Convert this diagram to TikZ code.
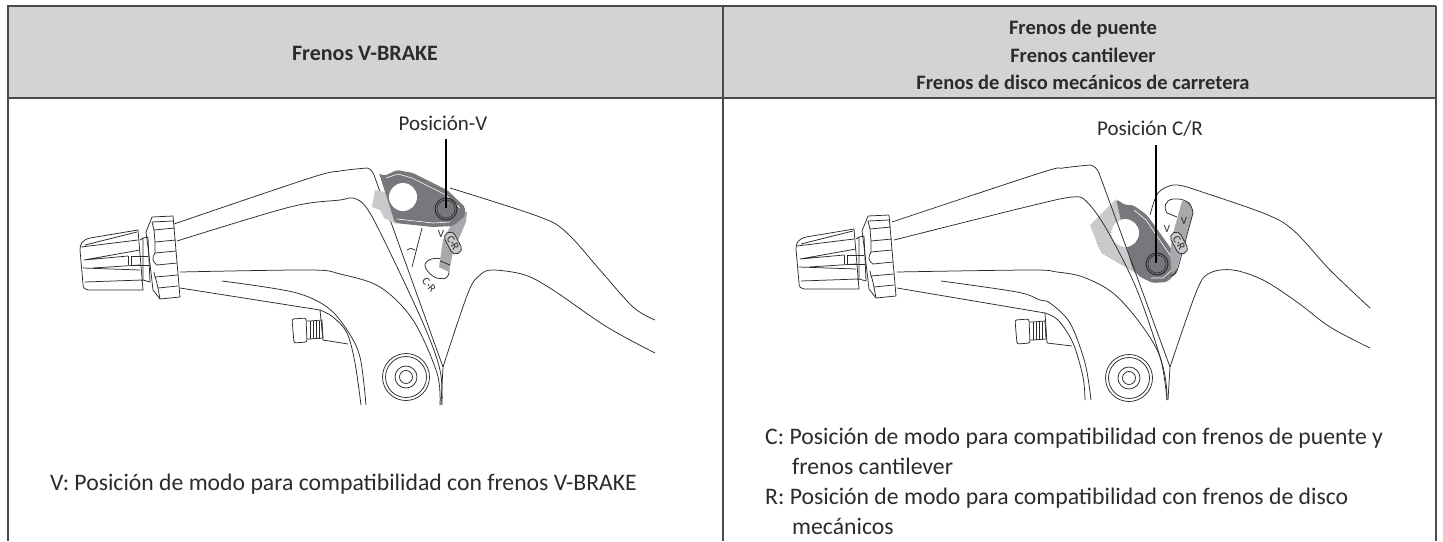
\documentclass[tikz,border=0pt]{standalone}
\usepackage{fontspec}
\setmainfont{Carlito}
\definecolor{headgray}{HTML}{D1D3D4}
\definecolor{platedark}{HTML}{77787B}
\definecolor{platemid}{HTML}{A7A9AC}
\definecolor{platelight}{HTML}{C9CACC}
\definecolor{inkgray}{HTML}{2B2B2B}
\tikzset{
  outline/.style={draw=inkgray,line width=0.75pt,line join=round},
  smoothline/.style={outline,smooth,tension=0.55},
  rule/.style={draw=inkgray!85,line width=1.4pt},
  leaderline/.style={draw=black,line width=1.8pt},
  headtext/.style={font=\fontsize{20.5}{27.5}\selectfont\bfseries,align=center,text=inkgray,inner sep=0pt},
  bodytext/.style={font=\fontsize{23.7}{30}\selectfont,align=left,anchor=base west,text=inkgray,inner sep=0pt},
  calllabel/.style={font=\fontsize{21}{25}\selectfont,anchor=base,text=inkgray,inner sep=0pt},
  tinymark/.style={font=\fontsize{11}{11}\selectfont,text=inkgray,inner sep=0pt},
  pillmark/.style={tinymark,outline,fill=platelight,rounded corners=5pt,minimum width=23pt,minimum height=11pt,rotate=-62},
}
% knob, neck and collar of the lever
\newcommand{\leverknob}{
  \draw[outline] (138,230)--(90,238)..controls (82,240) and (80,244) .. (80,250)--(83,284)..controls (83,288) and (85,290) .. (88,290)--(143,290)--cycle;
  \draw[outline] (81,247)--(138,240) (85,245)--(137,232) (84,260)--(140,250) (84,260)--(128,256) (83,268)--(140,270) (93,268)--(140,265) (85,282)--(142,280);
  \draw[outline] (140,240)--(143,238)--(143,280)--(141,281);
  \draw[outline] (143,238)--(148,237)--(150,282)--(143,280);
  \draw[outline] (128,256)--(128,265) (131,256)--(131,265) (131,256)--(148,256) (131,265)--(149,265);
  \draw[outline] (152,217)--(173,216)--(180,297)--(160,299)--(153,290)--(148,247)--(146,232)--cycle;
  \draw[outline] (152,222)--(173,221) (154,230)--(175,228) (155,242)--(176,240) (155,253)--(176,251) (157,265)--(177,263) (155,277)--(178,275) (158,288)--(178,286);
  \draw[outline] (152,222)--(154,230)--(155,242)--(155,253)..controls (152,257) and (152,262) .. (157,265);
  \draw[outline] (157,265) (155,277)..controls (157,281) and (157,285) .. (158,288)--(160,299);
  \draw[outline] (155,277)--(154,272);
}
% bolt and ring of the mount
\newcommand{\leverbolt}{
  \draw[outline,rounded corners=2pt] (292,319)--(306,318)--(307,342)--(294,343)--cycle;
  \draw[outline] (307,321)--(310,321)--(322,320)--(323,338)--(310,339)--(307,339);
  \foreach \tx in {310,313,316,319}{\draw[outline] (\tx,321)--(\tx,339);}
  \draw[outline] (406,377) circle (23.5) (406,377) circle (20.5) (406,377) circle (11) (406,377) circle (6.5);
}
\begin{document}
\begin{tikzpicture}[x=1pt,y=-1pt]
\useasboundingbox (0,0) rectangle (1443,541);
% table
\fill[headgray] (8,6) rectangle (1436,98);
\draw[rule,line width=2.2pt] (8,6)--(1436,6);
\draw[rule] (8,98)--(1436,98);
\draw[rule,line width=1.8pt] (8,5)--(8,541);
\draw[rule] (723,6)--(723,541);
\draw[rule] (1436,6)--(1436,541);
\node[headtext,font=\fontsize{22}{27.5}\selectfont\bfseries] (headV) at (365,53) {Frenos V-BRAKE};
\node[headtext] (headCR) at (1083,55) {Frenos de puente\\Frenos cantilever\\Frenos de disco mecánicos de carretera};

% left picture
\leverknob
\leverbolt
\draw[smoothline] plot coordinates {(174,224) (310,178) (340,171) (367,168)};
\draw[outline] (367,168)..controls (371,169) and (372,171) .. (374,175)--(443,367)--(441,405);
\draw[smoothline] plot coordinates {(177,241) (290,207) (340,200) (353,198) (366,207) (384,240) (423,323) (440,370) (442,405)};
\draw[smoothline] plot coordinates {(180,272) (310,270) (340,274) (380,287) (413,320) (437,373) (440,405)};
\draw[smoothline] plot coordinates {(222,281) (293,292) (327,307) (347,330) (360,357) (366,405)};
\draw[smoothline] plot coordinates {(320,310) (333,317) (347,333) (355,363) (361,405)};
\draw[outline] (180,288)--(320,310)--(323,340)--(348,344);
\draw[outline] (422,228)--(412,267) (407,250)..controls (410,248) and (413,248) .. (415,250);
\draw[smoothline] plot coordinates {(450,188) (540,217) (567,233) (600,270) (633,307) (655,320)};
\draw[smoothline] plot coordinates {(443,367) (468,293) (480,275) (493,270) (525,275) (553,290) (607,327) (655,353)};
\draw[outline,fill=white,rounded corners=3pt] (440,258)--(430,259)--(424,264)--(427,271)--(435,278)--(446,279)--(450,272)--(445,262)--cycle;
\fill[platelight] (375,190)--(372,207)--(380,210)--(384,218)--(396,224)--(385,192)--cycle;
\fill[platemid] (458,212)--(467,212)--(466,222)--(453,252)--(449,272)--(439,267)--(443,240)--cycle;
\draw[outline] (440,261)--(450,265);
\fill[platedark,rounded corners=2pt] (379,173)--(384,176)--(397,170)--(413,173)--(447,190)--(465,207)--(465,216)--(453,226)--(433,227)--(395,223)--cycle;
\draw[white,line width=0.6pt] (386,178)--(398,174)--(412,178)--(446,195)--(460,208) (397,219)--(433,223)--(450,222);
\fill[white] (403,197) circle (14);
\draw[inkgray,line width=1pt,fill=platedark] (446,209) circle (11);
\draw[inkgray,line width=0.6pt] (446,209) circle (9);
\node[pillmark] (pillV) at (453,243) {C·R};
\node[tinymark] (markV) at (441,234) {V};
\node[tinymark,rotate=-48] (slotV) at (429,285) {C·R};
\node[calllabel] (lblV) at (443,130) {Posición-V};
\coordinate (pinV) at (446,208);
\draw[leaderline] (pinV |- lblV.south)++(0,9) -- (pinV);
\node[bodytext] (textV) at (50,490) {V: Posición de modo para compatibilidad con frenos V-BRAKE};

% right picture
\begin{scope}[shift={(716,-1)}]
\leverknob
\end{scope}
\begin{scope}[shift={(723,1)}]
\leverbolt
\end{scope}
\fill[platelight] (1090,225)--(1116,199)--(1150,282)--(1137,274)--(1102,253)--(1097,243)--cycle;
\draw[platemid,line width=1pt,dotted] (1097,243)--(1102,253)--(1137,273);
\fill[platedark,rounded corners=3pt] (1116,199)--(1125,205)--(1133,205)--(1147,215)--(1177,257)--(1177,272)--(1167,282)--(1153,283)--(1140,277)--(1132,268)--cycle;
\draw[white,line width=0.6pt] (1134,210)--(1146,220)--(1172,258)--(1172,270)--(1163,278)--(1151,278);
\fill[white] (1125,233) circle (14);
\draw[platemid,dotted,line width=0.8pt] (1125,233) ++(100:14) arc[start angle=100,end angle=270,radius=14];
\draw[smoothline] plot coordinates {(892,222) (1040,173) (1063,168) (1090,165)};
\draw[outline] (1090,165)..controls (1095,166) and (1097,169) .. (1099,173)--(1170,367)--(1168,400);
\draw[smoothline] plot coordinates {(894,240) (1030,206) (1073,197) (1087,202) (1107,230) (1137,290) (1163,367) (1167,400)};
\draw[smoothline] plot coordinates {(897,272) (1030,270) (1057,272) (1083,277) (1113,293) (1140,323) (1160,357) (1167,400)};
\draw[smoothline] plot coordinates {(941,281) (1017,292) (1040,300) (1050,303) (1070,323) (1085,363) (1091,400)};
\draw[smoothline] plot coordinates {(1045,313) (1058,320) (1073,343) (1083,377) (1085,400)};
\draw[outline] (897,288)--(1045,313)--(1047,343)--(1072,346);
\draw[smoothline] plot coordinates {(1150,215) (1158,193) (1173,185) (1187,187)};
\draw[smoothline] plot coordinates {(1187,187) (1263,213) (1293,230) (1330,270) (1370,308)};
\draw[smoothline] plot coordinates {(1170,367) (1197,290) (1210,273) (1233,270) (1263,280) (1297,302) (1330,327) (1370,348)};
\fill[platemid] (1182,201)--(1190,202)--(1193,213)--(1177,268)--(1172,274)--(1170,255)--(1172,237)--cycle;
\draw[outline] (1167,213)..controls (1163,208) and (1165,200) .. (1173,199)..controls (1185,198) and (1192,203) .. (1193,213)--(1178,268)..controls (1177,272) and (1175,275) .. (1171,276);
\draw[outline] (1167,213)--(1177,217);
\node[pillmark] (pillCR) at (1179,243) {C·R};
\node[tinymark] (markCRa) at (1167,229) {V};
\node[tinymark] (markCRb) at (1184,221) {V};
\draw[inkgray,line width=1pt,fill=platedark] (1157,264) circle (11);
\draw[inkgray,line width=0.6pt] (1157,264) circle (9);
\node[calllabel] (lblCR) at (1150,135) {Posición C/R};
\coordinate (pinCR) at (1156,263);
\draw[leaderline] (pinCR |- lblCR.south)++(0,9) -- (pinCR);
\node[bodytext] (textC) at (765,474) {C: Posición de modo para compatibilidad con frenos de puente y\\\hspace*{27pt}frenos cantilever};
\node[bodytext] (textR) at (765,534) {R: Posición de modo para compatibilidad con frenos de disco\\\hspace*{27pt}mecánicos};
\end{tikzpicture}
\end{document}
